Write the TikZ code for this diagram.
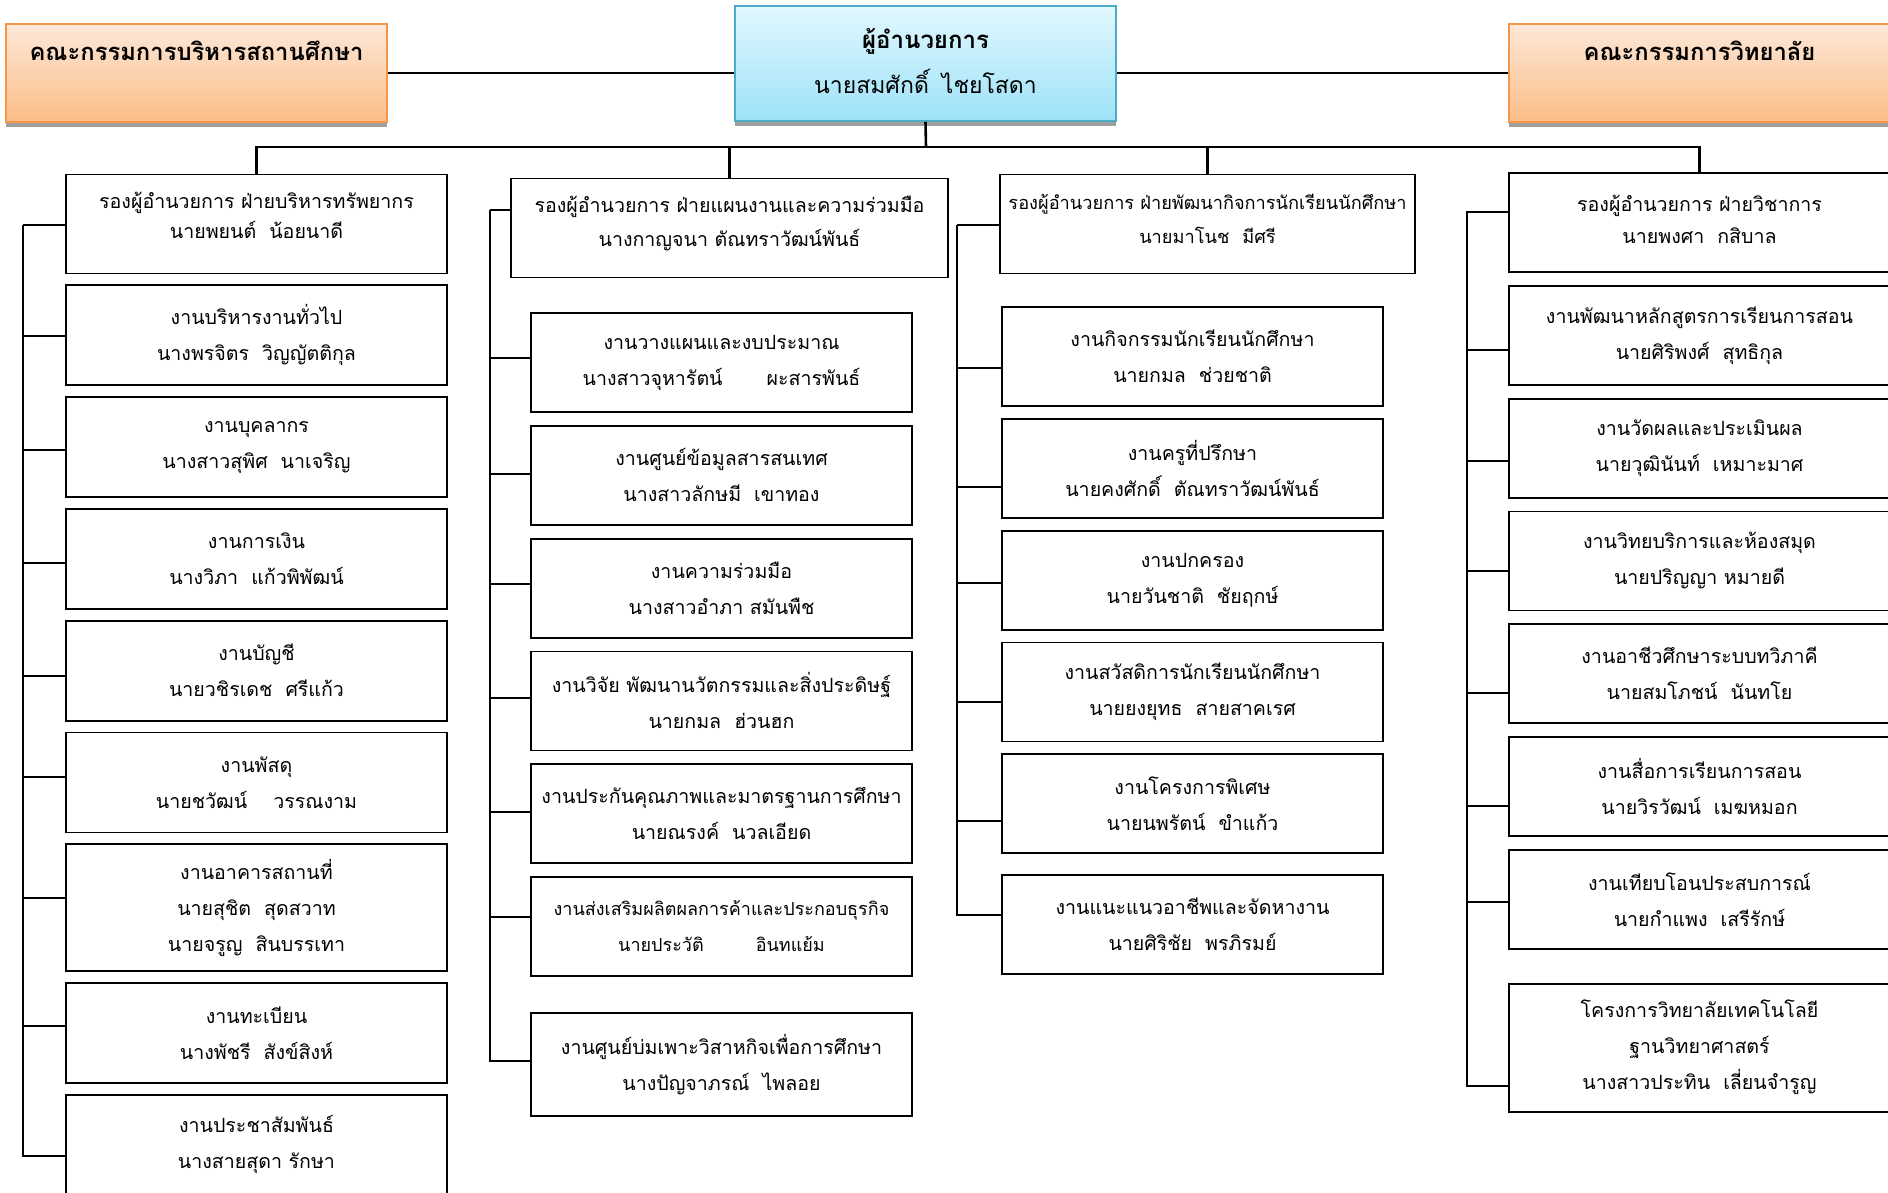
\documentclass[tikz,border=0pt]{standalone}
\usepackage{fontspec}
\setmainfont[Script=Thai]{Loma}
\usetikzlibrary{positioning, shadows}
\definecolor{orangetop}{HTML}{FDE8D8}
\definecolor{orangebot}{HTML}{FBBD88}
\definecolor{orangeline}{HTML}{F79646}
\definecolor{cyantop}{HTML}{E2F8FE}
\definecolor{cyanbot}{HTML}{9DE2F8}
\definecolor{cyanline}{HTML}{4BACC6}
\newcommand{\namesp}{\hspace{13pt}}
\tikzset{
  x=1pt, y=-1pt,
  node distance=10pt,
  workbox/.style={draw, line width=1.8pt, minimum width=381pt, minimum height=99pt,
    inner sep=2pt, align=center, font=\fontsize{19.6}{36}\selectfont},
  deputy/.style={workbox, text depth=18pt, font=\fontsize{19.6}{32}\selectfont},
  board/.style={draw=orangeline, line width=1.6pt, top color=orangetop, bottom color=orangebot,
    minimum width=381pt, minimum height=98pt, text depth=44pt,
    font=\bfseries\fontsize{23.8}{28}\selectfont,
    drop shadow={shadow xshift=0pt, shadow yshift=-5pt, fill=gray!75, opacity=1}},
  chief/.style={board, draw=cyanline, top color=cyantop, bottom color=cyanbot,
    minimum height=115pt, text depth=6pt, align=center, font=\fontsize{23}{45}\selectfont},
  link/.style={line width=2pt},
  bus/.style={line width=2.6pt},
}

\begin{document}
\begin{tikzpicture}
  \useasboundingbox (0,0) rectangle (1888,1192);

  % top row
  \node[chief] (dir) at (925.5,63.5) {{\bfseries\fontsize{24}{45}\selectfont ผู้อำนวยการ}\\นายสมศักดิ์\namesp ไชยโสดา};
  \node[board] (boardL) at (196.5,73) {คณะกรรมการบริหารสถานศึกษา};
  \node[board] (boardR) at (1699.5,73) {คณะกรรมการวิทยาลัย};

  % deputies
  \node[deputy, font=\fontsize{19.6}{30}\selectfont] (dep1) at (256.5,224) {รองผู้อำนวยการ ฝ่ายบริหารทรัพยากร\\นายพยนต์\namesp น้อยนาดี};
  \node[deputy, minimum width=437pt, text depth=14pt, font=\fontsize{19.6}{34}\selectfont] (dep2) at (729.5,228) {รองผู้อำนวยการ ฝ่ายแผนงานและความร่วมมือ\\นางกาญจนา ตัณทราวัฒน์พันธ์};
  \node[deputy, minimum width=415pt, text depth=10pt, font=\fontsize{18.2}{34}\selectfont] (dep3) at (1207.5,224) {รองผู้อำนวยการ ฝ่ายพัฒนากิจการนักเรียนนักศึกษา\\นายมาโนช\namesp มีศรี};
  \node[deputy, text depth=7pt] (dep4) at (1699.5,222.5) {รองผู้อำนวยการ ฝ่ายวิชาการ\\นายพงศา\namesp กสิบาล};

  % column 1
  \node[workbox, minimum height=100pt, below=of dep1] (a1) {งานบริหารงานทั่วไป\\นางพรจิตร\namesp วิญญัตติกุล};
  \node[workbox, minimum height=100pt, below=of a1] (a2) {งานบุคลากร\\นางสาวสุพิศ\namesp นาเจริญ};
  \node[workbox, minimum height=100pt, below=of a2] (a3) {งานการเงิน\\นางวิภา\namesp แก้วพิพัฒน์};
  \node[workbox, minimum height=100pt, below=of a3] (a4) {งานบัญชี\\นายวชิรเดช\namesp ศรีแก้ว};
  \node[workbox, minimum height=100pt, below=of a4] (a5) {งานพัสดุ\\นายชวัฒน์\namesp\namesp วรรณงาม};
  \node[workbox, minimum height=127pt, below=of a5] (a6) {งานอาคารสถานที่\\นายสุชิต\namesp สุดสวาท\\นายจรูญ\namesp สินบรรเทา};
  \node[workbox, minimum height=100pt, below=of a6] (a7) {งานทะเบียน\\นางพัชรี\namesp สังข์สิงห์};
  \node[workbox, minimum height=100pt, below=of a7] (a8) {งานประชาสัมพันธ์\\นางสายสุดา รักษา};

  % column 2
  \node[workbox] (b1) at (721.5,362.5) {งานวางแผนและงบประมาณ\\นางสาวจุหารัตน์\hspace{44pt}ผะสารพันธ์};
  \node[workbox, below=12pt of b1] (b2) {งานศูนย์ข้อมูลสารสนเทศ\\นางสาวลักษมี\namesp เขาทอง};
  \node[workbox, below=12pt of b2] (b3) {งานความร่วมมือ\\นางสาวอำภา สมันพืช};
  \node[workbox, below=12pt of b3] (b4) {งานวิจัย พัฒนานวัตกรรมและสิ่งประดิษฐ์\\นายกมล\namesp ฮ่วนฮก};
  \node[workbox, below=12pt of b4] (b5) {งานประกันคุณภาพและมาตรฐานการศึกษา\\นายณรงค์\namesp นวลเอียด};
  \node[workbox, below=12pt of b5, font=\fontsize{18}{36}\selectfont] (b6) {งานส่งเสริมผลิตผลการค้าและประกอบธุรกิจ\\นายประวัติ\hspace{52pt}อินทแย้ม};
  \node[workbox, minimum height=103pt, below=35pt of b6] (b7) {งานศูนย์บ่มเพาะวิสาหกิจเพื่อการศึกษา\\นางปัญจาภรณ์\namesp ไพลอย};

  % column 3
  \node[workbox] (c1) at (1192.5,356.5) {งานกิจกรรมนักเรียนนักศึกษา\\นายกมล\namesp ช่วยชาติ};
  \node[workbox, below=11pt of c1] (c2) {งานครูที่ปรึกษา\\นายคงศักดิ์\namesp ตัณทราวัฒน์พันธ์};
  \node[workbox, below=11pt of c2] (c3) {งานปกครอง\\นายวันชาติ\namesp ชัยฤกษ์};
  \node[workbox, below=11pt of c3] (c4) {งานสวัสดิการนักเรียนนักศึกษา\\นายยงยุทธ\namesp สายสาคเรศ};
  \node[workbox, below=11pt of c4] (c5) {งานโครงการพิเศษ\\นายนพรัตน์\namesp ขำแก้ว};
  \node[workbox, below=20pt of c5] (c6) {งานแนะแนวอาชีพและจัดหางาน\\นายศิริชัย\namesp พรภิรมย์};

  % column 4
  \node[workbox, below=12pt of dep4] (d1) {งานพัฒนาหลักสูตรการเรียนการสอน\\นายศิริพงศ์\namesp สุทธิกุล};
  \node[workbox, below=12pt of d1] (d2) {งานวัดผลและประเมินผล\\นายวุฒินันท์\namesp เหมาะมาศ};
  \node[workbox, below=12pt of d2] (d3) {งานวิทยบริการและห้องสมุด\\นายปริญญา หมายดี};
  \node[workbox, below=12pt of d3] (d4) {งานอาชีวศึกษาระบบทวิภาคี\\นายสมโภชน์\namesp นันทโย};
  \node[workbox, below=12pt of d4] (d5) {งานสื่อการเรียนการสอน\\นายวิรวัฒน์\namesp เมฆหมอก};
  \node[workbox, below=12pt of d5] (d6) {งานเทียบโอนประสบการณ์\\นายกำแพง\namesp เสรีรักษ์};
  \node[workbox, minimum height=128pt, below=33pt of d6] (d7) {โครงการวิทยาลัยเทคโนโลยี\\ฐานวิทยาศาสตร์\\นางสาวประทิน\namesp เลี่ยนจำรูญ};

  % links
  \coordinate (bus) at (926,147);
  \draw[link] (boardL.east) -- (boardL.east -| dir.west);
  \draw[link] (dir.east |- boardR.west) -- (boardR.west);
  \draw[bus] (dir.south) -- (bus);
  \foreach \d in {dep1,dep2,dep3,dep4}
    \draw[bus] (bus) -| (\d.north);

  \coordinate (sp1) at (23,225);
  \coordinate (sp2) at (490,210);
  \coordinate (sp3) at (957,225);
  \coordinate (sp4) at (1467,211);
  \foreach \b/\dy in {dep1/-1,a1/-1,a2/-3,a3/-4,a4/-5,a5/6,a6/10,a7/7,a8/-11}
    \draw[link] (sp1) |- ([yshift=\dy pt]\b.west);
  \foreach \b/\dy in {dep2/18,b1/5,b2/1,b3/4,b4/3,b5/2,b6/10,b7/3}
    \draw[link] (sp2) |- ([yshift=\dy pt]\b.west);
  \foreach \b/\dy in {dep3/-1,c1/-11,c2/-19,c3/-3,c4/-10,c5/-17,c6/10}
    \draw[link] (sp3) |- ([yshift=\dy pt]\b.west);
  \foreach \b/\dy in {dep4/11,d1/-15,d2/-13,d3/-10,d4/-19,d5/-19,d6/-3,d7/-38}
    \draw[link] (sp4) |- ([yshift=\dy pt]\b.west);
\end{tikzpicture}
\end{document}
